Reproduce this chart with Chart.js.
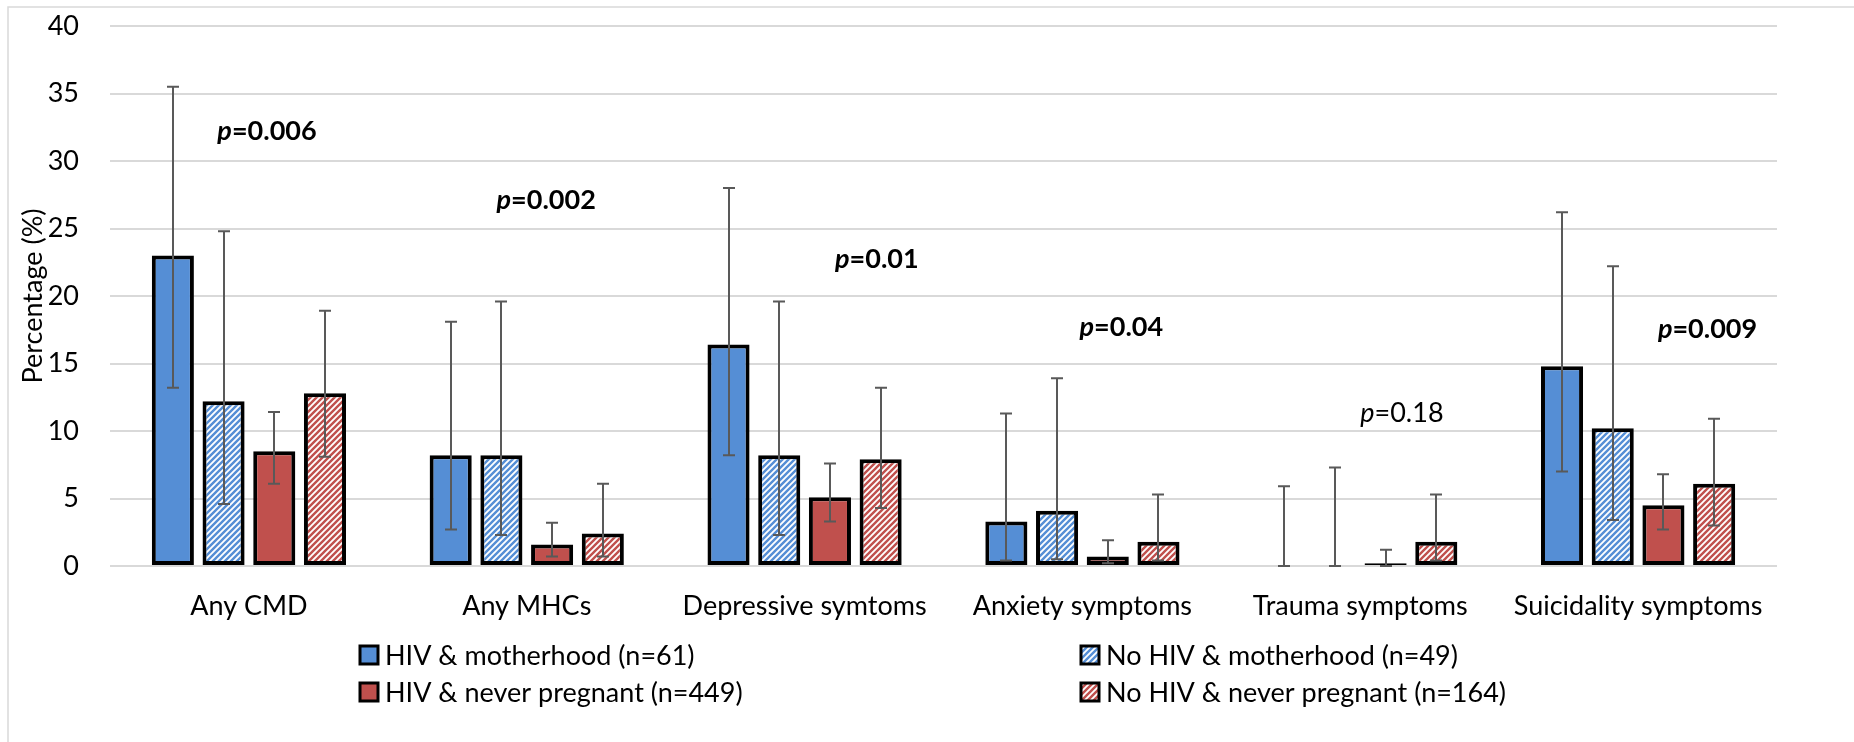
<!DOCTYPE html>
<html lang="en">
<head>
    <meta charset="UTF-8">
    <title>Mental health by HIV and pregnancy status</title>
    <script src="https://cdn.jsdelivr.net/npm/chart.js"></script>
    <style>
        body {
            margin: 0;
            padding: 0;
            background: #fff;
        }
        #wrap {
            width: 1854px;
            height: 742px;
        }
    </style>
</head>
<body>
    <div id="wrap"><canvas id="chart" width="1854" height="742"></canvas></div>

    <script>
        // categories + series (percentages, 95% CI)
        const categories = ['Any CMD', 'Any MHCs', 'Depressive symtoms', 'Anxiety symptoms', 'Trauma symptoms', 'Suicidality symptoms'];
        const seriesLabels = ['HIV & motherhood (n=61)', 'No HIV & motherhood (n=49)', 'HIV & never pregnant (n=449)', 'No HIV & never pregnant (n=164)'];

        const hivMother = [23.0, 8.2, 16.4, 3.3, 0, 14.8];
        const hivMotherLow = [13.2, 2.7, 8.2, 0.4, 0, 7.0];
        const hivMotherHigh = [35.5, 18.1, 28.0, 11.3, 5.9, 26.2];

        const noHivMother = [12.2, 8.2, 8.2, 4.1, 0, 10.2];
        const noHivMotherLow = [4.6, 2.3, 2.3, 0.5, 0, 3.4];
        const noHivMotherHigh = [24.8, 19.6, 19.6, 13.9, 7.3, 22.2];

        const hivNever = [8.5, 1.6, 5.1, 0.7, 0.2, 4.5];
        const hivNeverLow = [6.1, 0.7, 3.3, 0.2, 0.0, 2.7];
        const hivNeverHigh = [11.4, 3.2, 7.6, 1.9, 1.2, 6.8];

        const noHivNever = [12.8, 2.4, 7.9, 1.8, 1.8, 6.1];
        const noHivNeverLow = [8.1, 0.7, 4.3, 0.4, 0.4, 3.0];
        const noHivNeverHigh = [18.9, 6.1, 13.2, 5.3, 5.3, 10.9];

        const yTicks = [0, 5, 10, 15, 20, 25, 30, 35, 40];

        // p-value labels, anchored in data units (category + shift, value)
        const pValues = ['0.006', '0.002', '0.01', '0.04', '0.18', '0.009'];
        const pBold = [true, true, true, true, false, true];
        const pShift = [0.065, 0.07, 0.26, 0.14, 0.15, 0.25];
        const pLevel = [32.2, 27.1, 22.7, 17.7, 11.3, 17.5];

        const BLUE = '#558ed5';
        const RED = '#c0504d';
        const FONT = 'Lato, "Open Sans", sans-serif';
        const FS = 27;

        function stripes(color) {
            const s = 6;
            const c = document.createElement('canvas');
            c.width = s;
            c.height = s;
            const g = c.getContext('2d');
            g.fillStyle = '#fff';
            g.fillRect(0, 0, s, s);
            g.strokeStyle = color;
            g.lineWidth = 2.4;
            g.beginPath();
            g.moveTo(-1, 1); g.lineTo(1, -1);
            g.moveTo(0, s); g.lineTo(s, 0);
            g.moveTo(s - 1, s + 1); g.lineTo(s + 1, s - 1);
            g.stroke();
            return g.createPattern(c, 'repeat');
        }

        const errors = [
            [hivMotherLow, hivMotherHigh],
            [noHivMotherLow, noHivMotherHigh],
            [hivNeverLow, hivNeverHigh],
            [noHivNeverLow, noHivNeverHigh]
        ];

        const frame = {
            id: 'frame',
            beforeDraw(chart) {
                const ctx = chart.ctx;
                ctx.save();
                ctx.fillStyle = '#fff';
                ctx.fillRect(0, 0, chart.width, chart.height);
                ctx.strokeStyle = '#d9d9d9';
                ctx.lineWidth = 1.5;
                ctx.strokeRect(8, 7, chart.width + 20, chart.height + 20);
                ctx.restore();
            }
        };

        const errorBars = {
            id: 'errorBars',
            afterDatasetsDraw(chart) {
                const ctx = chart.ctx;
                const y = chart.scales.y;
                ctx.save();
                ctx.strokeStyle = '#595959';
                ctx.lineWidth = 2;
                errors.forEach((pair, i) => {
                    chart.getDatasetMeta(i).data.forEach((bar, j) => {
                        const lo = y.getPixelForValue(pair[0][j]);
                        const hi = y.getPixelForValue(pair[1][j]);
                        const x = Math.round(bar.x);
                        ctx.beginPath();
                        ctx.moveTo(x, lo); ctx.lineTo(x, hi);
                        ctx.moveTo(x - 6, hi); ctx.lineTo(x + 6, hi);
                        ctx.moveTo(x - 6, lo); ctx.lineTo(x + 6, lo);
                        ctx.stroke();
                    });
                });
                ctx.restore();
            }
        };

        const pLabels = {
            id: 'pLabels',
            afterDatasetsDraw(chart) {
                const ctx = chart.ctx;
                const xs = chart.scales.x, ys = chart.scales.y;
                ctx.save();
                ctx.fillStyle = '#000';
                ctx.textBaseline = 'middle';
                ctx.textAlign = 'left';
                pValues.forEach((v, i) => {
                    const w = pBold[i] ? 'bold ' : '';
                    const pFont = 'italic ' + w + FS + 'px ' + FONT;
                    const rest = '=' + v;
                    const restFont = w + FS + 'px ' + FONT;
                    ctx.font = pFont;
                    const w1 = ctx.measureText('p').width;
                    ctx.font = restFont;
                    const w2 = ctx.measureText(rest).width;
                    const cx = xs.getPixelForValue(i + pShift[i]);
                    const cy = ys.getPixelForValue(pLevel[i]);
                    const x0 = cx - (w1 + w2) / 2;
                    ctx.font = pFont;
                    ctx.fillText('p', x0, cy);
                    ctx.font = restFont;
                    ctx.fillText(rest, x0 + w1, cy);
                });
                ctx.restore();
            }
        };

        const legendBox = {
            id: 'legendBox',
            afterDraw(chart) {
                const ctx = chart.ctx;
                const cols = [385, 1106];
                const rows = [655, 692];
                ctx.save();
                ctx.font = FS + 'px ' + FONT;
                ctx.textBaseline = 'middle';
                ctx.textAlign = 'left';
                chart.data.datasets.forEach((ds, i) => {
                    const tx = cols[i % 2];
                    const ty = rows[Math.floor(i / 2)];
                    ctx.fillStyle = ds.backgroundColor;
                    ctx.fillRect(tx - 25, ty - 9, 18, 18);
                    ctx.strokeStyle = '#000';
                    ctx.lineWidth = 3;
                    ctx.strokeRect(tx - 25, ty - 9, 18, 18);
                    ctx.fillStyle = '#000';
                    ctx.fillText(ds.label, tx, ty + 1);
                });
                ctx.restore();
            }
        };

        const ctx = document.getElementById('chart').getContext('2d');

        function makeSet(label, data, fill) {
            return {
                label: label,
                data: data,
                backgroundColor: fill,
                borderColor: '#000',
                borderWidth: 4,
                borderSkipped: false,
                categoryPercentage: 0.73,
                barPercentage: 0.83
            };
        }

        new Chart(ctx, {
            type: 'bar',
            data: {
                labels: categories,
                datasets: [
                    makeSet(seriesLabels[0], hivMother, BLUE),
                    makeSet(seriesLabels[1], noHivMother, stripes(BLUE)),
                    makeSet(seriesLabels[2], hivNever, RED),
                    makeSet(seriesLabels[3], noHivNever, stripes(RED))
                ]
            },
            options: {
                responsive: false,
                animation: false,
                devicePixelRatio: 1,
                layout: { padding: { left: 0, right: 77, top: 26, bottom: 116 } },
                plugins: {
                    legend: { display: false },
                    tooltip: { enabled: false }
                },
                scales: {
                    x: {
                        grid: { display: false },
                        border: { display: false },
                        ticks: {
                            color: '#000',
                            font: { family: FONT, size: FS },
                            padding: 16,
                            maxRotation: 0,
                            autoSkip: false
                        },
                        afterFit(s) {
                            s.height = 60;
                            s.paddingLeft = 0;
                            s.paddingRight = 0;
                        }
                    },
                    y: {
                        min: 0,
                        max: 40,
                        afterBuildTicks(s) { s.ticks = yTicks.map(v => ({ value: v })); },
                        grid: { color: '#d9d9d9', lineWidth: 2, drawTicks: false },
                        border: { display: false },
                        ticks: {
                            color: '#000',
                            font: { family: FONT, size: FS },
                            padding: 31
                        },
                        title: {
                            display: true,
                            text: 'Percentage (%)',
                            color: '#000',
                            font: { family: FONT, size: FS },
                            padding: { top: 17, bottom: 0 }
                        },
                        afterFit(s) {
                            s.width = 110;
                            s.paddingTop = 0;
                            s.paddingBottom = 0;
                        }
                    }
                }
            },
            plugins: [frame, errorBars, pLabels, legendBox]
        });
    </script>
</body>
</html>
